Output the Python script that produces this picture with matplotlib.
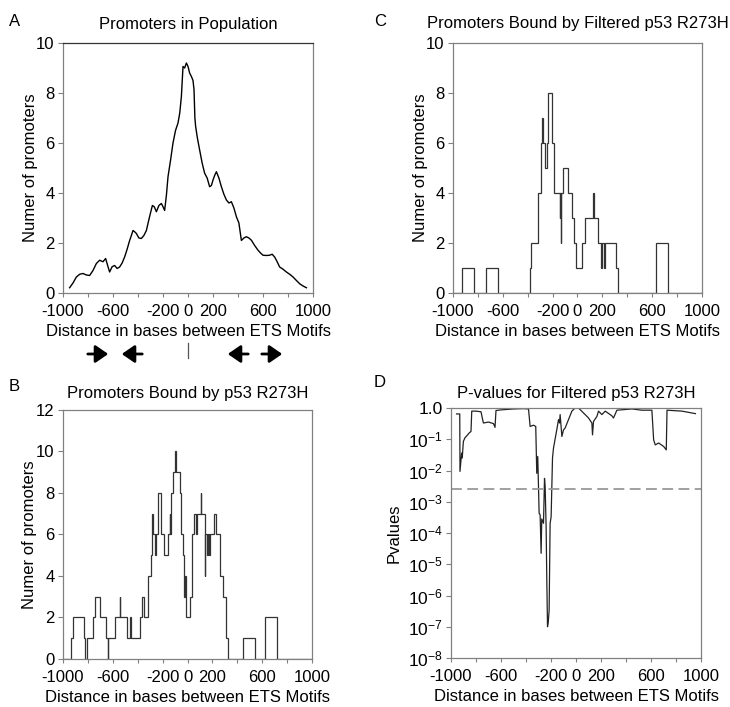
import matplotlib.pyplot as plt
from matplotlib.patches import FancyArrowPatch

plt.rcParams['font.family'] = ['Liberation Sans', 'DejaVu Sans']

# Panel A: promoters in population (smoothed curve)
a_x = [-947, -920, -893, -866, -840, -813, -787, -760, -733, -707, -680, -659, -640, -627,
       -607, -587, -567, -547, -527, -507, -487, -467, -453, -440, -427, -413, -393, -373,
       -353, -333, -310, -285, -270, -253, -233, -213, -200, -187, -173, -160, -140, -120,
       -100, -80, -66, -53, -45, -40, -27, -13, 0, 13, 27, 40, 48, 55, 61, 75, 93, 113, 133,
       153, 173, 187, 200, 213, 227, 247, 267, 287, 307, 327, 347, 367, 387, 407, 427, 447,
       467, 487, 507, 533, 560, 580, 600, 627, 653, 673, 693, 713, 733, 760, 787, 813, 840,
       867, 893, 920, 947]
a_y = [0.21, 0.4, 0.64, 0.75, 0.78, 0.72, 0.7, 0.9, 1.18, 1.31, 1.25, 1.38, 1.05, 0.84,
       1.05, 1.1, 0.98, 1.04, 1.2, 1.44, 1.75, 2.1, 2.3, 2.5, 2.45, 2.38, 2.2, 2.18, 2.3,
       2.5, 3.0, 3.5, 3.45, 3.25, 3.5, 3.58, 3.45, 3.3, 3.9, 4.65, 5.3, 6.0, 6.5, 6.8, 7.2,
       7.86, 8.6, 9.06, 9.0, 9.2, 9.06, 8.8, 8.66, 8.5, 8.13, 7.0, 6.66, 6.2, 5.72, 5.2, 4.79,
       4.6, 4.25, 4.3, 4.52, 4.7, 4.85, 4.6, 4.25, 3.95, 3.72, 3.6, 3.65, 3.4, 3.05, 2.8, 2.1,
       2.2, 2.25, 2.2, 2.11, 1.9, 1.71, 1.6, 1.51, 1.5, 1.51, 1.55, 1.44, 1.25, 1.04, 0.95,
       0.84, 0.75, 0.64, 0.5, 0.37, 0.28, 0.21]

# Panel B: promoters bound by p53 R273H (step start positions and counts)
b_starts = [-1000, -933, -920, -834, -821, -807, -759, -740, -700, -652, -639, -636, -585,
            -545, -540, -486, -459, -453, -384, -363, -352, -317, -290, -282, -279, -264,
            -253, -234, -213, -189, -157, -144, -137, -130, -116, -100, -90, -63, -50, -36,
            -30, -20, -9, 23, 39, 50, 71, 79, 108, 111, 138, 142, 160, 165, 175, 180, 213,
            226, 259, 285, 312, 325, 446, 545, 625, 722]
b_counts = [0, 1, 2, 1, 0, 1, 2, 3, 2, 1, 0, 1, 2,
            3, 2, 1, 2, 1, 2, 3, 2, 4, 5, 7, 6, 5,
            6, 8, 6, 5, 6, 7, 6, 8, 9, 10, 9, 8, 6, 5,
            3, 4, 2, 3, 6, 7, 6, 7, 8, 7, 4, 6, 5, 6, 5, 6, 7,
            6, 4, 3, 1, 0, 1, 0, 2, 0]

# Panel C: promoters bound by filtered p53 R273H (step start positions and counts)
c_starts = [-1000, -928, -831, -737, -638, -383, -375, -369, -315, -289, -283, -275, -262,
            -248, -235, -208, -187, -144, -138, -133, -128, -114, -74, -42, -31, -15, 34,
            60, 125, 133, 162, 189, 200, 211, 221, 307, 329, 629, 726]
c_counts = [0, 1, 0, 1, 0, 1, 2, 2, 4, 6, 7, 6, 5,
            6, 8, 6, 4, 3, 4, 2, 4, 5, 4, 3, 2, 1, 2,
            3, 4, 3, 2, 1, 2, 1, 2, 1, 0, 2, 0]
x_end = 1000

# Panel D: p-values for filtered p53 R273H (log10 of p)
d_x = [-955, -930, -928, -915, -910, -901, -888, -874, -855, -840, -834, -800, -760, -741,
       -700, -660, -648, -640, -600, -500, -420, -380, -367, -340, -322, -314, -306, -295,
       -287, -279, -274, -260, -252, -247, -239, -234, -228, -222, -215, -207, -199, -188,
       -180, -154, -140, -132, -127, -113, -100, -87, -60, -33, -7, 20, 73, 100, 127, 132,
       140, 167, 180, 207, 234, 287, 300, 327, 447, 527, 607, 621, 634, 661, 701, 722, 728,
       848, 955]
d_logp = [-0.19, -0.19, -2.03, -1.44, -1.6, -1.07, -0.95, -0.89, -0.8, -0.75, -0.1, -0.1,
          -0.12, -0.48, -0.45, -0.5, -0.62, -0.08, -0.06, -0.03, -0.02, -0.03, -0.59, -0.55,
          -0.59, -2.09, -1.55, -3.37, -3.42, -4.65, -3.55, -3.69, -2.25, -2.5, -3.8, -5.4,
          -7.0, -6.85, -6.47, -3.69, -3.48, -1.6, -1.28, -0.7, -0.37, -0.48, -0.21, -0.91,
          -0.7, -0.64, -0.37, -0.1, 0.0, 0.0, -0.21, -0.32, -0.48, -0.86, -0.43, -0.27, -0.1,
          -0.21, -0.1, -0.25, -0.32, -0.07, -0.03, -0.07, -0.07, -1.02, -1.18, -1.12, -1.23,
          -1.34, -0.07, -0.1, -0.18]
d_cutoff = 0.0026

x_ticks = list(range(-1000, 1001, 200))
x_labels = ['-1000', '', '-600', '', '-200', '0', '200', '', '600', '', '1000']
spine_col = '#808080'
xlabel = 'Distance in bases between ETS Motifs'

fig = plt.figure(figsize=(7.3, 7.07), dpi=100)
ax_a = fig.add_axes([0.0863, 0.5856, 0.3425, 0.3536])
ax_c = fig.add_axes([0.6205, 0.5856, 0.3410, 0.3536])
ax_b = fig.add_axes([0.0863, 0.0679, 0.3411, 0.3522])
ax_d = fig.add_axes([0.6178, 0.0693, 0.3425, 0.3536])


def style(ax, title, ylabel, tpad, ylpad=-1.0, ysize=12):
    ax.set_xlim(-1000, 1000)
    ax.set_xticks(x_ticks)
    ax.set_xticklabels(x_labels)
    ax.set_xlabel(xlabel, fontsize=12, labelpad=3.5)
    ax.set_ylabel(ylabel, fontsize=12, labelpad=ylpad)
    ax.set_title(title, fontsize=12, pad=tpad)
    ax.tick_params(axis='x', direction='out', length=3, width=0.8,
                   color=spine_col, labelsize=12, pad=5)
    ax.tick_params(axis='y', direction='out', length=3.5, width=0.8,
                   color=spine_col, labelsize=ysize, pad=2.5)
    for s in ax.spines.values():
        s.set_color(spine_col)
        s.set_linewidth(0.9)


ax_a.plot(a_x, a_y, color='black', lw=1.0)
ax_a.set_ylim(0, 10)
ax_a.set_yticks(range(0, 11, 2))
style(ax_a, 'Promoters in Population', 'Numer of promoters', 10)
ax_a.spines['top'].set_color('#333333')

ax_b.stairs(b_counts, b_starts + [x_end], color='#333333', lw=0.9)
ax_b.set_ylim(0, 12)
ax_b.set_yticks(range(0, 13, 2))
style(ax_b, 'Promoters Bound by p53 R273H', 'Numer of promoters', 8.5)

ax_c.stairs(c_counts, c_starts + [x_end], color='#333333', lw=0.9)
ax_c.set_ylim(0, 10)
ax_c.set_yticks(range(0, 11, 2))
style(ax_c, 'Promoters Bound by Filtered p53 R273H', 'Numer of promoters', 10.5)

ax_d.plot(d_x, [10 ** v for v in d_logp], color='#222222', lw=0.9)
ax_d.axhline(d_cutoff, color='#999999', lw=1.3, ls=(0, (6, 3)))
ax_d.set_yscale('log')
ax_d.set_ylim(1e-8, 1)
ax_d.set_yticks([10.0 ** -k for k in range(8, -1, -1)])
ax_d.set_yticklabels([r'$\mathregular{10^{-%d}}$' % k for k in range(8, 0, -1)] + ['1.0'])
ax_d.minorticks_off()
style(ax_d, 'P-values for Filtered p53 R273H', 'Pvalues', 7, ylpad=4.5, ysize=12.5)

# panel letters
fig.text(0.012, 0.963, 'A', fontsize=12)
fig.text(0.512, 0.963, 'C', fontsize=12)
fig.text(0.012, 0.447, 'B', fontsize=12)
fig.text(0.512, 0.452, 'D', fontsize=12)

# motif orientation arrows below panel A
arrow_y = 1 - 354 / 707
for x0, x1 in [(85, 111), (145, 119), (251, 225), (259, 285)]:
    fig.add_artist(FancyArrowPatch(
        (x0 / 730, arrow_y), (x1 / 730, arrow_y), transform=fig.transFigure,
        arrowstyle='-|>,head_length=0.55,head_width=0.38', mutation_scale=14,
        lw=2.0, color='black'))
fig.add_artist(plt.Line2D([188 / 730, 188 / 730], [1 - 343 / 707, 1 - 358 / 707],
                          transform=fig.transFigure, color='#555555', lw=0.9))

plt.savefig('out.png', dpi=100)
